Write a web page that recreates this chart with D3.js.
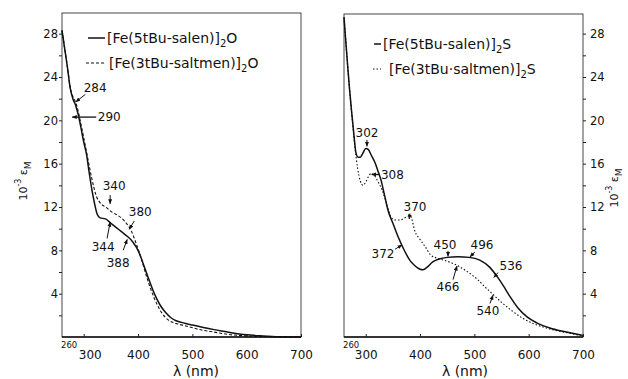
<!DOCTYPE html>
<html lang="en">
<head>
<meta charset="utf-8">
<title>Fe salen dimers - electronic spectra</title>
<script src="https://d3js.org/d3.v7.min.js"></script>
<style>
  body { margin: 0; background: #fff; }
  svg text { font-family: "DejaVu Sans", sans-serif; fill: #111; }
  .tick line { stroke: #222; }
  .domain { display: none; }
</style>
</head>
<body>
<div id="chart"></div>
<script>
// ---- left panel: [Fe(..)]2O
const oxoSalenNm  = [260,265,270,275,280,285,290,295,300,305,310,315,320,325,330,340,350,360,370,380,390,400,410,420,430,440,450,460,470,480,500,520,540,560,580,600,630,660,700];
const oxoSalenEps = [28.3,26.6,24.9,23.0,22.0,21.4,20.5,19.3,18.0,16.9,15.2,13.6,12.3,11.3,11.0,10.9,10.5,10.1,9.7,9.3,8.8,8.0,6.7,5.3,4.0,3.0,2.3,1.8,1.5,1.35,1.1,0.88,0.68,0.5,0.32,0.2,0.1,0.03,0];
const oxoSaltmenNm  = [260,270,275,280,285,290,295,300,307,315,324,330,343,350,360,369,380,387,396,405,415,425,435,444,455,470,490,512,540,573,600,640,700];
const oxoSaltmenEps = [28.3,24.9,23.1,22.2,21.7,20.8,19.6,18.4,16.6,14.6,12.9,12.4,11.9,11.6,11.3,11.0,10.4,9.85,8.7,7.4,5.7,4.2,3.0,2.2,1.6,1.25,1.0,0.7,0.45,0.2,0.1,0.03,0];

// ---- right panel: [Fe(..)]2S
const sulSalenNm  = [260,263,266,270,274,278,282,286,290,295,300,305,310,317,322,328,335,341,350,360,370,381,390,400,405,412,424,435,450,470,490,510,528,543,555,566,580,597,615,639,665,694,700];
const sulSalenEps = [29.5,27.5,25.5,23.0,20.8,18.8,17.0,16.6,16.6,17.0,17.4,17.3,16.8,16.1,15.4,14.5,13.0,11.7,10.5,9.2,8.1,7.1,6.6,6.25,6.2,6.4,6.95,7.2,7.35,7.4,7.35,7.1,6.45,5.5,4.6,3.7,2.7,1.85,1.3,0.83,0.5,0.2,0.15];
const sulSaltmenNm  = [260,266,270,275,280,285,290,295,300,305,310,316,323,330,336,342,347,355,363,372,382,391,400,410,419,430,443,455,469,485,506,520,535,550,567,590,610,628,650,670,690,700];
const sulSaltmenEps = [29.5,25.5,23.0,20.2,17.6,15.6,14.4,14.0,14.3,14.8,15.1,14.9,14.3,13.6,12.7,11.7,11.0,10.8,10.8,11.0,11.2,9.7,9.0,8.3,7.6,7.3,7.1,6.9,6.6,6.1,5.3,4.6,3.9,3.2,2.5,1.7,1.2,0.9,0.6,0.4,0.2,0.15];

// axis ticks
const xTickVals = [300, 400, 500, 600, 700];
const yMajor = [4, 8, 12, 16, 20, 24, 28];
const yMinor = [2, 6, 10, 14, 18, 22, 26];

// peak labels: text, arrow tip [nm, eps], arrow tail [nm, eps], text spot [nm, eps]
const oxoNotes = [
  {t: "284", tip: [285.5, 21.7], tail: [303, 22.4], at: [321, 22.6], anchor: "middle"},
  {t: "290", tip: [279, 20.3], tail: [323, 20.3], at: [326, 19.9], anchor: "start", flat: true},
  {t: "340", tip: [348.6, 12.3], tail: [348.6, 13.1], at: [356, 13.6], anchor: "middle"},
  {t: "380", tip: [383.7, 9.95], tail: [393, 10.7], at: [404, 11.15], anchor: "middle"},
  {t: "344", tip: [348.6, 10.6], tail: [343, 9.1], at: [335.7, 7.9], anchor: "middle"},
  {t: "388", tip: [380, 9.0], tail: [372.6, 8.0], at: [363.4, 6.45], anchor: "middle"}
];
const sulNotes = [
  {t: "302", tip: [302.3, 17.6], tail: [302.3, 18.2], at: [302.3, 18.5], anchor: "middle"},
  {t: "308", tip: [311, 15.0], tail: [326, 15.0], at: [328, 14.55], anchor: "start", flat: true},
  {t: "370", tip: [380, 10.9], tail: [381.5, 11.4], at: [390.7, 11.6], anchor: "middle"},
  {t: "372", tip: [366.5, 8.5], tail: [354, 8.1], at: [331.8, 7.3], anchor: "middle"},
  {t: "450", tip: [451.5, 7.45], tail: [451.5, 7.95], at: [445.9, 8.15], anchor: "middle"},
  {t: "496", tip: [492, 7.4], tail: [501, 7.85], at: [514, 8.1], anchor: "middle"},
  {t: "536", tip: [536, 5.5], tail: [543.5, 5.95], at: [567.4, 6.2], anchor: "middle"},
  {t: "466", tip: [468, 6.55], tail: [460.7, 5.3], at: [451.5, 4.25], anchor: "middle"},
  {t: "540", tip: [534.3, 3.85], tail: [528.8, 3.1], at: [525, 2.05], anchor: "middle"}
];

const W = 628, H = 379;
const svg = d3.select("#chart").append("svg")
    .attr("width", W).attr("height", H)
    .attr("viewBox", [0, 0, W, H]);

svg.append("defs").append("marker")
    .attr("id", "arr")
    .attr("viewBox", "0 0 10 10")
    .attr("refX", 9).attr("refY", 5)
    .attr("markerWidth", 5).attr("markerHeight", 5)
    .attr("markerUnits", "userSpaceOnUse")
    .attr("orient", "auto")
  .append("path")
    .attr("d", "M0,1L10,5L0,9z")
    .attr("fill", "#111");

function zipSeries(nm, eps) {
    return nm.map((d, i) => ({x: d, y: eps[i]}));
}

function drawPanel(p) {
    const x = d3.scaleLinear().domain([260, 700]).range([p.left, p.right]);
    const y = d3.scaleLinear().domain([0, 30]).range([337, 12]);
    const g = svg.append("g");

    // frame
    g.append("rect")
        .attr("x", p.left).attr("y", p.top)
        .attr("width", p.right - p.left).attr("height", 337 - p.top)
        .attr("fill", "none").attr("stroke", "#333").attr("stroke-width", 0.9);
    g.append("line")
        .attr("x1", p.left).attr("x2", p.right)
        .attr("y1", 337).attr("y2", 337)
        .attr("stroke", "#111").attr("stroke-width", 1.6);

    // x axis
    const xAxis = d3.axisBottom(x).tickValues(xTickVals).tickSizeInner(-3).tickSizeOuter(0).tickPadding(13);
    const xg = g.append("g").attr("transform", "translate(0,337)").call(xAxis);
    xg.selectAll("text").attr("font-size", 12)
        .attr("dx", d => (d === 300 ? p.firstShift : 0));
    g.append("text").attr("x", p.left - 1).attr("y", 348)
        .attr("font-size", 8.5).text("260");
    g.append("text").attr("x", p.xTitle).attr("y", 376)
        .attr("text-anchor", "middle").attr("font-size", 14).text("λ (nm)");

    // y axis (major + minor)
    const yAxisFn = p.side === "left" ? d3.axisLeft : d3.axisRight;
    const ax = yAxisFn(y).tickValues(yMajor).tickSizeInner(3).tickSizeOuter(0).tickPadding(p.side === "left" ? 1 : 4);
    const axG = g.append("g").attr("transform", `translate(${p.side === "left" ? p.left : p.right},0)`).call(ax);
    axG.selectAll("text").attr("font-size", 11.5);
    const axMinor = yAxisFn(y).tickValues(yMinor).tickSizeInner(3).tickSizeOuter(0).tickFormat("");
    g.append("g").attr("transform", `translate(${p.side === "left" ? p.left : p.right},0)`).call(axMinor);

    // y title: 10^-3 eps_M
    const yt = g.append("text")
        .attr("transform", `translate(${p.yTitleX},${p.yTitleY}) rotate(-90)`)
        .attr("text-anchor", "middle").attr("font-size", 11);
    yt.append("tspan").text("10");
    yt.append("tspan").attr("font-size", 8).attr("dy", -6).text("-3");
    yt.append("tspan").attr("dy", 6).text(" ε");
    yt.append("tspan").attr("font-size", 9).attr("dy", 4).text("M");

    // curves
    const line = d3.line().x(d => x(d.x)).y(d => y(d.y)).curve(d3.curveMonotoneX);
    p.series.forEach(s => {
        g.append("path")
            .datum(zipSeries(s.nm, s.eps))
            .attr("d", line)
            .attr("fill", "none")
            .attr("stroke", "#111")
            .attr("stroke-width", s.dash ? 1.1 : 1.5)
            .attr("stroke-dasharray", s.dash || null);
    });

    // legend
    p.series.forEach((s, i) => {
        const ly = p.legY + i * 25;
        g.append("line")
            .attr("x1", p.legX - s.sw).attr("x2", p.legX - 2)
            .attr("y1", ly - 5).attr("y2", ly - 5)
            .attr("stroke", "#111").attr("stroke-width", s.dash ? 1.2 : 1.5)
            .attr("stroke-dasharray", s.dash || null);
        const t = g.append("text").attr("x", p.legX + (s.dx || 0)).attr("y", ly).attr("font-size", 14);
        t.append("tspan").text(s.name);
        t.append("tspan").attr("font-size", 10).attr("dy", 4).text("2");
        t.append("tspan").attr("dy", -4).text(p.bridge);
    });

    // peak annotations
    p.notes.forEach(n => {
        g.append("line")
            .attr("x1", x(n.tail[0])).attr("y1", y(n.tail[1]))
            .attr("x2", x(n.tip[0])).attr("y2", y(n.tip[1]))
            .attr("stroke", "#111").attr("stroke-width", n.flat ? 1.3 : 1)
            .attr("marker-end", "url(#arr)");
        g.append("text")
            .attr("x", x(n.at[0])).attr("y", y(n.at[1]))
            .attr("text-anchor", n.anchor).attr("font-size", 12)
            .text(n.t);
    });
}

drawPanel({
    left: 62, right: 301, top: 13, side: "left", firstShift: 6,
    xTitle: 196, yTitleX: 27, yTitleY: 181,
    legX: 107, legY: 43, bridge: "O",
    series: [
        {name: "[Fe(5tBu-salen)]", nm: oxoSalenNm, eps: oxoSalenEps, sw: 19},
        {name: "[Fe(3tBu-saltmen)]", nm: oxoSaltmenNm, eps: oxoSaltmenEps, dash: "3,2", sw: 21, dx: 2}
    ],
    notes: oxoNotes
});

drawPanel({
    left: 344, right: 583, top: 14, side: "right", firstShift: 0,
    xTitle: 465, yTitleX: 618, yTitleY: 188,
    legX: 383, legY: 49, bridge: "S",
    series: [
        {name: "[Fe(5tBu-salen)]", nm: sulSalenNm, eps: sulSalenEps, sw: 9},
        {name: "[Fe(3tBu·saltmen)]", nm: sulSaltmenNm, eps: sulSaltmenEps, dash: "1.5,2", sw: 10, dx: 6}
    ],
    notes: sulNotes
});
</script>
</body>
</html>
